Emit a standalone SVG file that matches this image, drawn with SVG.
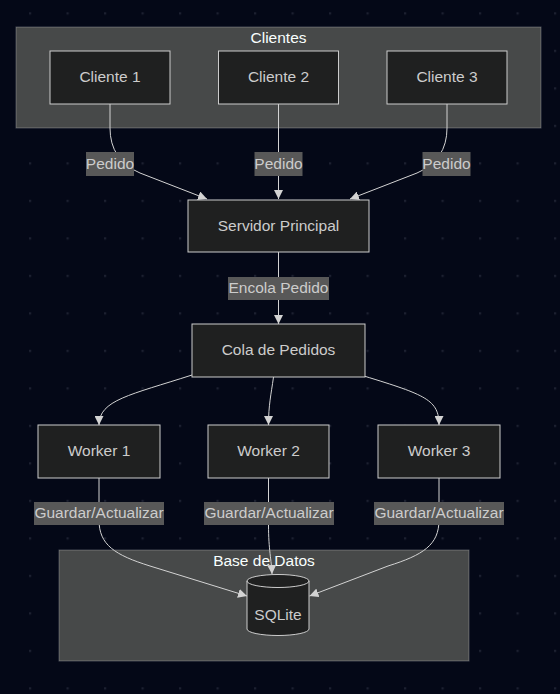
<svg xmlns="http://www.w3.org/2000/svg" width="560" height="694" viewBox="0 0 560 694">
<style>
text{font-family:"Liberation Sans",Arial,sans-serif;font-size:15.5px;text-anchor:middle;fill:#cccccc}
.title{fill:#f9fffe}
.cluster{fill:#474949;stroke:rgba(255,255,255,0.25);stroke-width:1}
.node{fill:#1f2020;stroke:#cccccc;stroke-width:1}
.edge{fill:none;stroke:#d3d3d3;stroke-width:1}
.lbl{fill:#585858}
</style>
<defs>
<pattern id="dots" patternUnits="userSpaceOnUse" x="29" y="12.3" width="37.5" height="37.5">
<rect x="0" y="0" width="2.2" height="2.2" fill="#1c2030"/>
</pattern>
<marker id="arr" viewBox="0 0 10 10" refX="10" refY="5" markerUnits="userSpaceOnUse" markerWidth="9" markerHeight="9" orient="auto">
<path d="M0,0 L10,5 L0,10 z" fill="#d3d3d3"/>
</marker>
</defs>
<rect width="560" height="694" fill="#040817"/>
<rect width="560" height="694" fill="url(#dots)"/>

<g id="cluster-clientes">
<rect class="cluster" x="16" y="27" width="525" height="101"/>
<text class="title" x="278.5" y="42.5">Clientes</text>
</g>
<g id="cluster-basedatos">
<rect class="cluster" x="59" y="550" width="410" height="111"/>
<text class="title" x="264" y="565.5">Base de Datos</text>
</g>

<g id="connectors">
<path class="edge" d="M110,104 L110,128 Q110,160 140,173 L207,199" marker-end="url(#arr)"/>
<path class="edge" d="M278.5,104 L278.5,199" marker-end="url(#arr)"/>
<path class="edge" d="M447,104 L447,128 Q447,160 417,173 L350,199" marker-end="url(#arr)"/>
<path class="edge" d="M278.5,252 L278.5,324" marker-end="url(#arr)"/>
<path class="edge" d="M192,375 C130,395 99,400 99,425" marker-end="url(#arr)"/>
<path class="edge" d="M273.5,377 C271,395 268.5,405 268.5,425" marker-end="url(#arr)"/>
<path class="edge" d="M364,376 C426,395 439,400 439,425" marker-end="url(#arr)"/>
<path class="edge" d="M99,478 L99,520 C99,545 115,555 150,566 L247,596" marker-end="url(#arr)"/>
<path class="edge" d="M268.5,478 L268.5,525 C268.5,550 271.5,560 272,574" marker-end="url(#arr)"/>
<path class="edge" d="M439,478 L439,520 C439,545 423,555 388,566 L309.5,596" marker-end="url(#arr)"/>
</g>

<g id="edge-labels">
<rect class="lbl" x="86" y="152" width="48" height="24"/>
<text x="110" y="168.8">Pedido</text>
<rect class="lbl" x="254.5" y="152" width="48" height="24"/>
<text x="278.5" y="168.8">Pedido</text>
<rect class="lbl" x="422.5" y="152" width="48" height="24"/>
<text x="446.5" y="168.8">Pedido</text>
<rect class="lbl" x="228" y="277" width="101" height="23"/>
<text x="278.5" y="293.3">Encola Pedido</text>
<rect class="lbl" x="34" y="502" width="130" height="23"/>
<text x="99" y="518.3">Guardar/Actualizar</text>
<rect class="lbl" x="204" y="502" width="130" height="23"/>
<text x="269" y="518.3">Guardar/Actualizar</text>
<rect class="lbl" x="374" y="502" width="130" height="23"/>
<text x="439" y="518.3">Guardar/Actualizar</text>
</g>

<g id="cliente1"><rect class="node" x="50" y="51" width="120" height="53"/><text x="110" y="82.2">Cliente 1</text></g>
<g id="cliente2"><rect class="node" x="218.5" y="51" width="120" height="53"/><text x="278.5" y="82.2">Cliente 2</text></g>
<g id="cliente3"><rect class="node" x="387" y="51" width="120" height="53"/><text x="447" y="82.2">Cliente 3</text></g>
<g id="servidor"><rect class="node" x="188" y="200" width="181" height="52"/><text x="278.5" y="230.8">Servidor Principal</text></g>
<g id="cola"><rect class="node" x="192" y="324" width="173" height="53"/><text x="278.5" y="355.3">Cola de Pedidos</text></g>
<g id="worker1"><rect class="node" x="38" y="425" width="122" height="53"/><text x="99" y="456.3">Worker 1</text></g>
<g id="worker2"><rect class="node" x="208" y="425" width="121" height="53"/><text x="268.5" y="456.3">Worker 2</text></g>
<g id="worker3"><rect class="node" x="378" y="425" width="122" height="53"/><text x="439" y="456.3">Worker 3</text></g>
<g id="sqlite">
<path class="node" d="M247,581 a31,6.5 0 0 0 62,0 a31,6.5 0 0 0 -62,0 l0,48 a31,6.5 0 0 0 62,0 l0,-48"/>
<text x="278" y="619.5">SQLite</text>
</g>
</svg>
